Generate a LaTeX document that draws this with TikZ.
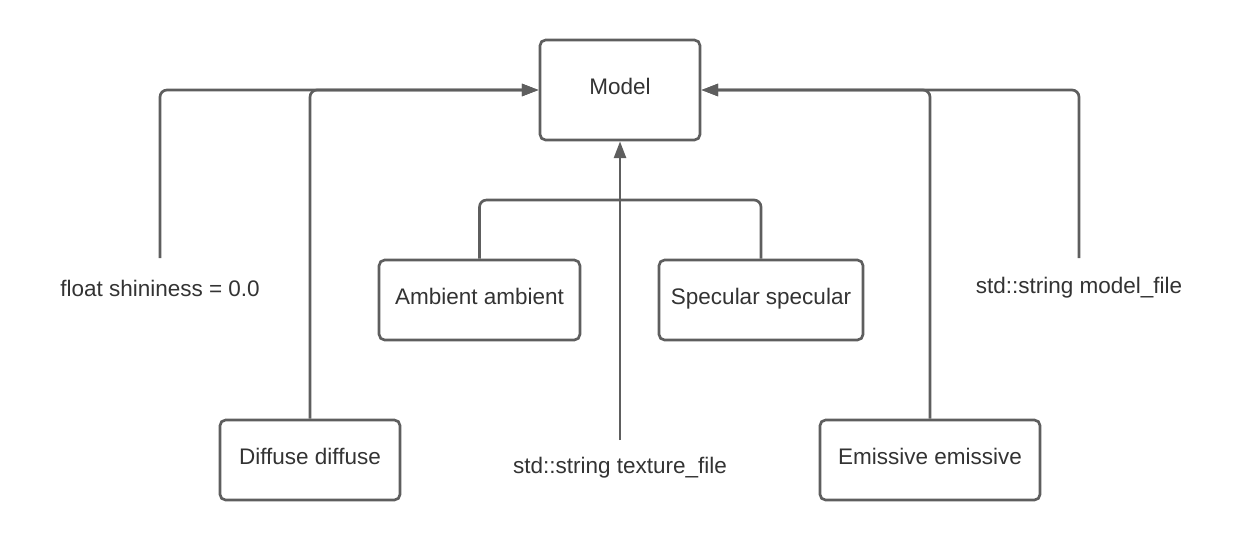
\documentclass[tikz,border=0pt]{standalone}
\usepackage{fontspec}
\setmainfont{Liberation Sans}
\usetikzlibrary{arrows.meta, positioning, calc}
\definecolor{lnGray}{HTML}{5E5E5E}
\definecolor{txGray}{HTML}{333333}

\begin{document}
\begin{tikzpicture}[
  x=0.025cm, y=-0.025cm,
  >={Triangle[length=4.2mm, width=3mm]},
  classbox/.style={draw=lnGray, line width=1.9pt, fill=white, rounded corners=4pt,
    minimum height=2cm, font=\fontsize{16}{19}\selectfont, text=txGray,
    align=center, inner sep=0pt, text depth=2mm},
  fieldlbl/.style={font=\fontsize{16}{19}\selectfont, text=txGray, inner sep=0pt},
  link/.style={draw=lnGray, line width=1.9pt, rounded corners=5pt},
]

% Frame
\useasboundingbox (0,0) rectangle (1240,540);

% === Main class ===
\node[classbox, minimum width=4cm, minimum height=2.5cm] (model) at (620,90) {Model};

% === Members ===
\node[classbox, minimum width=5.02cm] (ambient)  at (479.5,300) {Ambient ambient};
\node[classbox, minimum width=5.1cm]  (specular) at (761,300)   {Specular specular};
\node[classbox, minimum width=4.5cm]  (diffuse)  at (310,460)   {Diffuse diffuse};
\node[classbox, minimum width=5.5cm]  (emissive) at (930,460)   {Emissive emissive};

\node[fieldlbl] (shininess) at (160,288)   {float shininess = 0.0};
\node[fieldlbl] (modelfile) at (1079,288)  {std::string model\_file};
\node[fieldlbl] (texture)   at (620,468)   {std::string texture\_file};

% Free ends above the plain fields
\coordinate (shinTop)  at (shininess.north |- 0,258);
\coordinate (fileTop)  at (modelfile.north |- 0,258);
\coordinate (texTop)   at (texture.north |- 0,440);
\coordinate (join)     at (620,200);

% === Connectors, left ===
\draw[link, ->] (shinTop) |- (model.west);
\draw[link, ->] (diffuse.north) |- (model.west);

% === Connectors, right ===
\draw[link, ->] (fileTop) |- (model.east);
\draw[link, ->] (emissive.north) |- (model.east);

% === Connectors, below ===
\draw[link] (ambient.north) |- (join) -| (specular.north);
\draw[link, ->] (texTop) -- (model.south);

\end{tikzpicture}
\end{document}
